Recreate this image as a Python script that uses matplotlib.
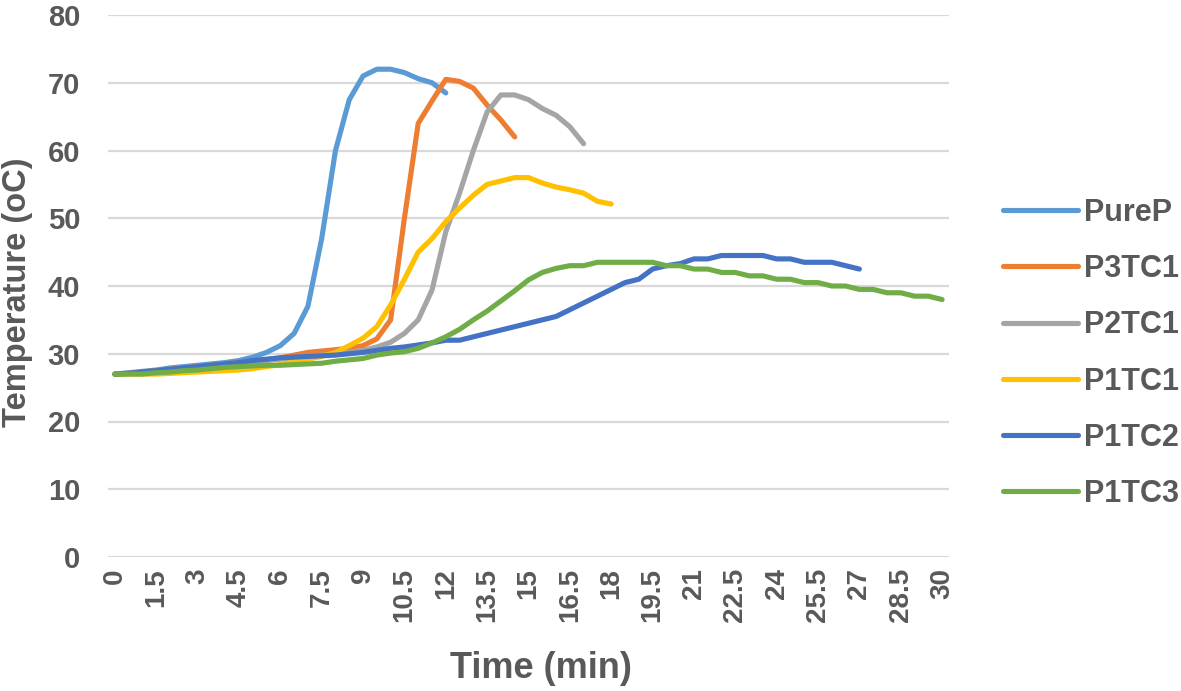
import numpy as np
import matplotlib
matplotlib.use("Agg")
import matplotlib.pyplot as plt

plt.rcParams['font.family'] = ['Liberation Sans', 'DejaVu Sans']
plt.rcParams['font.weight'] = 'bold'

# time axis (min), one reading every 0.5 min
time = np.arange(0, 30.5, 0.5)
tick_labels = ['0', '1.5', '3', '4.5', '6', '7.5', '9', '10.5', '12', '13.5', '15',
               '16.5', '18', '19.5', '21', '22.5', '24', '25.5', '27', '28.5', '30']

names = ['PureP', 'P3TC1', 'P2TC1', 'P1TC1', 'P1TC2', 'P1TC3']
colors = ['#5B9BD5', '#ED7D31', '#A5A5A5', '#FFC000', '#4472C4', '#70AD47']

pure_p = [27, 27.2, 27.4, 27.6, 27.9, 28.1, 28.3, 28.5, 28.7, 29.0,
          29.5, 30.2, 31.2, 33, 37, 47, 60, 67.5, 71, 72,
          72, 71.5, 70.6, 70, 68.5]

p3tc1 = [27, 27.1, 27.3, 27.5, 27.7, 27.9, 28.1, 28.3, 28.5, 28.7,
         28.9, 29.1, 29.4, 29.8, 30.2, 30.4, 30.6, 30.8, 31.2, 32.2,
         35, 50, 64, 67.3, 70.5, 70.2, 69.2, 66.7, 64.5, 62]

p2tc1 = [27, 27.1, 27.2, 27.4, 27.6, 27.8, 28, 28.2, 28.4, 28.6,
         28.8, 29, 29.2, 29.4, 29.6, 29.8, 30, 30.2, 30.5, 31,
         31.7, 33, 35, 39.4, 48, 53.7, 60, 65.7, 68.2, 68.2,
         67.5, 66.2, 65.2, 63.5, 61]

p1tc1 = [27, 27, 27, 27, 27.1, 27.2, 27.3, 27.4, 27.5, 27.6,
         27.8, 28.1, 28.4, 28.8, 29.2, 29.6, 30.2, 31.2, 32.3, 34,
         37.2, 41, 45, 47, 49.5, 51.5, 53.4, 55, 55.5, 56,
         56, 55.2, 54.6, 54.2, 53.7, 52.5, 52.1]

p1tc2 = [27, 27.1, 27.3, 27.5, 27.7, 27.9, 28.1, 28.3, 28.5, 28.7,
         29.0, 29.2, 29.4, 29.5, 29.6, 29.7, 29.8, 30, 30.2, 30.5,
         30.8, 31, 31.3, 31.6, 32, 32, 32.5, 33, 33.5, 34,
         34.5, 35, 35.5, 36.5, 37.5, 38.5, 39.5, 40.5, 41, 42.5,
         43, 43.3, 44, 44, 44.5, 44.5, 44.5, 44.5, 44, 44,
         43.5, 43.5, 43.5, 43, 42.5]

p1tc3 = [27, 27, 27, 27.2, 27.3, 27.5, 27.6, 27.8, 28, 28.1,
         28.2, 28.3, 28.3, 28.4, 28.5, 28.6, 28.9, 29.1, 29.3, 29.8,
         30.1, 30.3, 30.8, 31.6, 32.5, 33.6, 35, 36.3, 37.8, 39.3,
         40.9, 42, 42.6, 43, 43, 43.5, 43.5, 43.5, 43.5, 43.5,
         43, 43, 42.5, 42.5, 42, 42, 41.5, 41.5, 41, 41,
         40.5, 40.5, 40, 40, 39.5, 39.5, 39, 39, 38.5, 38.5, 38]

series = [pure_p, p3tc1, p2tc1, p1tc1, p1tc2, p1tc3]

fig = plt.figure(figsize=(11.81, 6.91), dpi=100)
ax = fig.add_axes([108/1181, 1 - 557/691, (949 - 108)/1181, (557 - 15)/691])

for name, col, vals in zip(names, colors, series):
    ax.plot(time[:len(vals)], vals, color=col, lw=3.7, label=name,
            solid_capstyle='round', solid_joinstyle='round')

ax.set_xlim(-0.25, 30.25)
ax.set_ylim(0, 80)
ax.set_yticks(np.arange(0, 81, 10))
ax.set_xticks(np.arange(0, 30.1, 1.5))
ax.set_xticklabels(tick_labels, rotation=90)
ax.tick_params(axis='both', length=0, colors='#595959')
ax.tick_params(axis='y', labelsize=21, pad=20)
ax.tick_params(axis='x', labelsize=20, pad=8)
ax.yaxis.grid(True, color='#D9D9D9', lw=1.6)
ax.set_axisbelow(True)
for s in ax.spines.values():
    s.set_visible(False)

fig.text(17.5/1181, 1 - 292/691, 'Temperature (oC)', rotation=90, ha='center', va='center',
         fontsize=23.5, color='#595959', fontweight='bold')
fig.text(541/1181, 1 - 668/691, 'Time (min)', ha='center', va='center',
         fontsize=26, color='#595959', fontweight='bold')

leg = ax.legend(loc='center left', bbox_to_anchor=(1003/1181, 1 - 353.5/691),
                bbox_transform=fig.transFigure, frameon=False, fontsize=22,
                handlelength=2.45, handletextpad=0.2, labelspacing=0.86,
                borderpad=0, borderaxespad=0)
for t in leg.get_texts():
    t.set_color('#595959')

fig.savefig('out.png', dpi=100)
